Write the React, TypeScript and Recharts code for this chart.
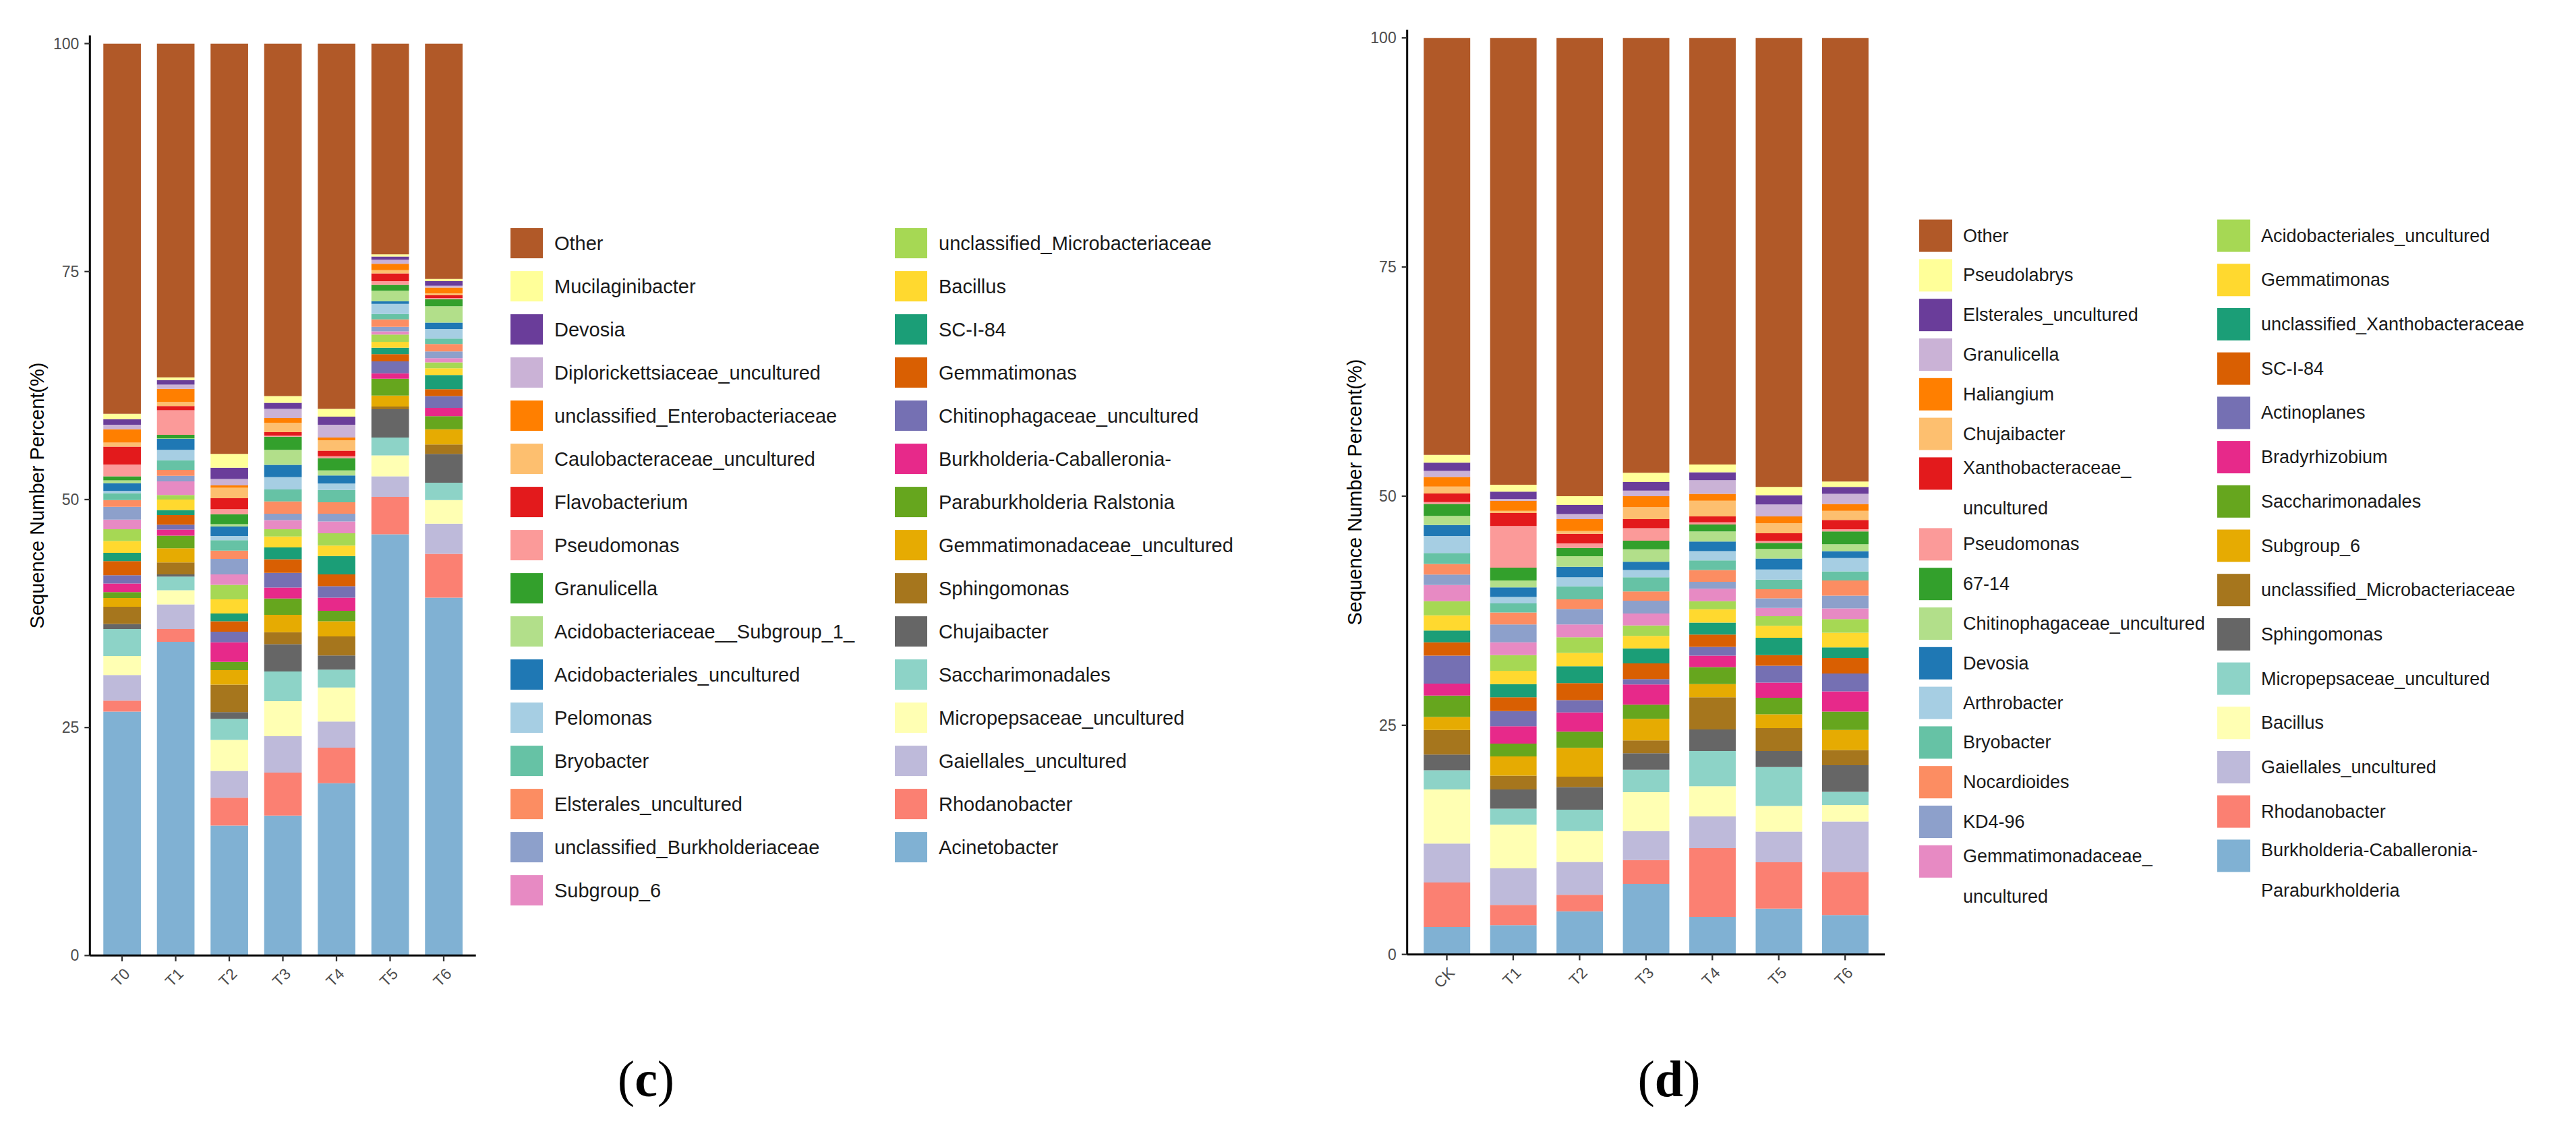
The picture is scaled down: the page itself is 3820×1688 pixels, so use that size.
import React from "react";
import { BarChart, Bar, XAxis, YAxis } from "recharts";

const font = "Liberation Sans, Arial, sans-serif";

// shared colour order (legend order, top of stack first)
const palette = [
  "#B15928", "#FFFF99", "#6A3D9A", "#CAB2D6", "#FF7F00", "#FDBF6F", "#E31A1C", "#FB9A99",
  "#33A02C", "#B2DF8A", "#1F78B4", "#A6CEE3", "#66C2A5", "#FC8D62", "#8DA0CB", "#E78AC3",
  "#A6D854", "#FFD92F", "#1B9E77", "#D95F02", "#7570B3", "#E7298A", "#66A61E", "#E6AB02",
  "#A6761D", "#666666", "#8DD3C7", "#FFFFB3", "#BEBADA", "#FB8072", "#80B1D3",
];

const yTicks = [0, 25, 50, 75, 100];

// ---- panel (c) ----
const leftSamples = ["T0", "T1", "T2", "T3", "T4", "T5", "T6"];
const leftGenera = [
  "Other", "Mucilaginibacter", "Devosia", "Diplorickettsiaceae_uncultured",
  "unclassified_Enterobacteriaceae", "Caulobacteraceae_uncultured", "Flavobacterium",
  "Pseudomonas", "Granulicella", "Acidobacteriaceae__Subgroup_1_", "Acidobacteriales_uncultured",
  "Pelomonas", "Bryobacter", "Elsterales_uncultured", "unclassified_Burkholderiaceae", "Subgroup_6",
  "unclassified_Microbacteriaceae", "Bacillus", "SC-I-84", "Gemmatimonas",
  "Chitinophagaceae_uncultured", "Burkholderia-Caballeronia-", "Paraburkholderia Ralstonia",
  "Gemmatimonadaceae_uncultured", "Sphingomonas", "Chujaibacter", "Saccharimonadales",
  "Micropepsaceae_uncultured", "Gaiellales_uncultured", "Rhodanobacter", "Acinetobacter",
];
const leftT0 = [40.6, 0.6, 0.6, 0.5, 1.45, 0.45, 1.95, 1.3, 0.45, 0.3, 0.85, 0.25, 0.75, 0.75, 1.4, 1.05, 1.3, 1.3, 0.9, 1.55, 0.9, 0.95, 0.65, 0.95, 1.9, 0.55, 2.95, 2.1, 2.8, 1.2, 26.75];
const leftT1 = [36.6, 0.3, 0.5, 0.45, 1.45, 0.45, 0.45, 2.7, 0.4, 0.05, 1.2, 1.15, 1.05, 0.65, 0.6, 1.5, 0.5, 1.15, 0.55, 1.05, 0.55, 0.65, 1.4, 1.55, 1.3, 0.25, 1.5, 1.55, 2.7, 1.4, 34.4];
const leftT2 = [45.0, 1.5, 1.25, 0.7, 0.25, 1.15, 1.2, 0.55, 1.1, 0.25, 1.05, 0.45, 1.15, 0.9, 1.7, 1.15, 1.6, 1.55, 0.85, 1.15, 1.15, 2.15, 0.9, 1.6, 3.0, 0.75, 2.3, 3.4, 2.95, 3.05, 14.25];
const leftT3 = [38.65, 0.75, 0.65, 1.0, 0.55, 1.0, 0.4, 0.1, 1.45, 1.65, 1.35, 1.35, 1.3, 1.35, 0.7, 1.0, 0.8, 1.2, 1.3, 1.5, 1.6, 1.2, 1.8, 1.9, 1.3, 3.0, 3.25, 3.85, 4.0, 4.7, 15.35];
const leftT4 = [40.05, 0.85, 0.9, 1.4, 0.3, 1.15, 0.6, 0.2, 1.35, 0.55, 0.9, 0.7, 1.35, 1.25, 0.85, 1.3, 1.35, 1.15, 2.0, 1.3, 1.25, 1.45, 1.15, 1.65, 2.1, 1.55, 1.95, 3.75, 2.85, 3.9, 18.9];
const leftT5 = [23.1, 0.25, 0.35, 0.45, 0.7, 0.35, 0.85, 0.4, 0.65, 1.15, 0.3, 1.1, 0.6, 0.8, 0.5, 0.35, 0.8, 0.65, 0.7, 0.8, 1.3, 0.6, 1.85, 1.2, 0.3, 3.1, 1.95, 2.3, 2.25, 4.1, 46.2];
const leftT6 = [25.8, 0.25, 0.5, 0.2, 0.65, 0.2, 0.3, 0.15, 0.75, 1.8, 0.7, 1.05, 0.6, 0.8, 0.75, 0.45, 0.65, 0.75, 1.55, 0.75, 1.3, 0.9, 1.45, 1.65, 1.05, 3.15, 1.9, 2.6, 3.3, 4.8, 39.25];
const leftRows = [leftT0, leftT1, leftT2, leftT3, leftT4, leftT5, leftT6];

// ---- panel (d) ----
const rightSamples = ["CK", "T1", "T2", "T3", "T4", "T5", "T6"];
const rightGenera = [
  "Other", "Pseudolabrys", "Elsterales_uncultured", "Granulicella", "Haliangium", "Chujaibacter",
  "Xanthobacteraceae_\nuncultured", "Pseudomonas", "67-14", "Chitinophagaceae_uncultured", "Devosia",
  "Arthrobacter", "Bryobacter", "Nocardioides", "KD4-96", "Gemmatimonadaceae_\nuncultured",
  "Acidobacteriales_uncultured", "Gemmatimonas", "unclassified_Xanthobacteraceae", "SC-I-84",
  "Actinoplanes", "Bradyrhizobium", "Saccharimonadales", "Subgroup_6",
  "unclassified_Microbacteriaceae", "Sphingomonas", "Micropepsaceae_uncultured", "Bacillus",
  "Gaiellales_uncultured", "Rhodanobacter", "Burkholderia-Caballeronia-\nParaburkholderia",
];
const rightCK = [45.5, 0.85, 0.9, 0.65, 1.05, 0.75, 0.95, 0.2, 1.3, 1.0, 1.2, 1.85, 1.2, 1.15, 1.15, 1.75, 1.55, 1.65, 1.3, 1.45, 3.05, 1.3, 2.35, 1.4, 2.7, 1.7, 2.1, 5.9, 4.25, 4.85, 3.0];
const rightT1 = [48.75, 0.75, 0.8, 0.2, 1.1, 0.25, 1.4, 4.55, 1.4, 0.75, 1.05, 0.7, 1.0, 1.3, 1.95, 1.4, 1.7, 1.45, 1.45, 1.5, 1.65, 1.9, 1.4, 2.1, 1.5, 2.1, 1.75, 4.75, 4.0, 2.2, 3.2];
const rightT2 = [50.0, 0.95, 1.0, 0.55, 1.3, 0.3, 1.05, 0.5, 0.9, 1.15, 1.15, 1.0, 1.4, 1.05, 1.7, 1.4, 1.7, 1.45, 1.85, 1.85, 1.35, 2.1, 1.75, 3.15, 1.15, 2.45, 2.35, 3.35, 3.6, 1.8, 4.7];
const rightT3 = [47.45, 1.0, 0.95, 0.6, 1.2, 1.3, 1.0, 1.35, 0.95, 1.35, 0.9, 0.8, 1.55, 1.0, 1.4, 1.3, 1.15, 1.35, 1.65, 1.7, 0.6, 2.2, 1.55, 2.35, 1.4, 1.8, 2.45, 4.25, 3.15, 2.6, 7.7];
const rightT4 = [46.55, 0.85, 0.85, 1.5, 0.75, 1.7, 0.65, 0.25, 0.75, 1.1, 1.05, 1.0, 1.05, 1.3, 0.75, 1.35, 0.9, 1.45, 1.3, 1.35, 0.95, 1.25, 1.85, 1.45, 3.5, 2.35, 3.85, 3.3, 3.45, 7.5, 4.1];
const rightT5 = [49.0, 0.9, 1.0, 1.3, 0.75, 1.1, 0.85, 0.2, 0.65, 1.05, 1.2, 1.1, 1.05, 1.0, 1.05, 0.9, 1.05, 1.3, 1.9, 1.15, 1.85, 1.65, 1.8, 1.5, 2.5, 1.75, 4.25, 2.8, 3.35, 5.05, 5.0];
const rightT6 = [48.4, 0.6, 0.75, 1.1, 0.75, 1.0, 1.0, 0.25, 1.4, 0.75, 0.75, 1.45, 1.0, 1.65, 1.4, 1.15, 1.5, 1.6, 1.15, 1.7, 1.95, 2.2, 2.0, 2.2, 1.65, 2.9, 1.45, 1.8, 5.5, 4.7, 4.3];
const rightRows = [rightCK, rightT1, rightT2, rightT3, rightT4, rightT5, rightT6];

function buildTable(samples: string[], rows: number[][]) {
  return samples.map((s, i) => {
    const row: Record<string, any> = { sample: s };
    rows[i].forEach((v, j) => (row["g" + j] = v));
    return row;
  });
}

const XTick = (props: any) => {
  const { x, y, payload } = props;
  const ax = x + 13;
  const ay = y + 20;
  return (
    <text x={ax} y={ay} transform={`rotate(-45 ${ax} ${ay})`} textAnchor="end"
      fill="#4d4d4d" fontSize={23} fontFamily={font}>
      {payload.value}
    </text>
  );
};

interface PanelProps {
  samples: string[];
  rows: number[][];
  count: number;
  width: number;
  margin: { top: number; right: number; bottom: number; left: number };
  pad: number;
  barSize: number;
}

function StackPanel({ samples, rows, count, width, margin, pad, barSize }: PanelProps) {
  const data = buildTable(samples, rows);
  const order = Array.from({ length: count }, (_, j) => count - 1 - j);
  return (
    <BarChart width={width} height={1540} data={data} margin={margin}>
      <XAxis dataKey="sample" interval={0} padding={{ left: pad, right: pad }} height={100}
        tickSize={8.7} tickMargin={0} tick={<XTick />}
        axisLine={{ stroke: "#000", strokeWidth: 3 }} tickLine={{ stroke: "#333", strokeWidth: 2.3 }} />
      <YAxis type="number" domain={[0, 100.9]} ticks={yTicks} width={80} tickSize={8} tickMargin={8}
        tick={{ fill: "#4d4d4d", fontSize: 23, fontFamily: font }}
        axisLine={{ stroke: "#000", strokeWidth: 3 }} tickLine={{ stroke: "#333", strokeWidth: 2.3 }} />
      {order.map((j) => (
        <Bar key={j} dataKey={"g" + j} stackId="s" fill={palette[j]} barSize={barSize}
          isAnimationActive={false} />
      ))}
    </BarChart>
  );
}

function LegendEntry({ label, color, kx, tx, cy, kw, kh, twoLineShift, size }: any) {
  const lines = label.split("\n");
  return (
    <g>
      <rect x={kx} y={cy - kh / 2} width={kw} height={kh} fill={color} />
      {lines.map((ln: string, k: number) => (
        <text key={k} x={tx} y={lines.length > 1 ? cy - 8 + k * twoLineShift : cy}
          dominantBaseline="central" fontSize={size} fontFamily={font} fill="#1a1a1a">
          {ln}
        </text>
      ))}
    </g>
  );
}

export default function App() {
  return (
    <div style={{ position: "absolute", left: 0, top: 0, width: 3820, height: 1688, background: "#fff" }}>
      <div style={{ position: "absolute", left: 0, top: 0 }}>
        <StackPanel samples={leftSamples} rows={leftRows} count={leftGenera.length} width={740}
          margin={{ top: 52.5, right: 34.3, bottom: 22.7, left: 53.3 }} pad={7.95} barSize={55.7} />
      </div>
      <div style={{ position: "absolute", left: 1960, top: 0 }}>
        <StackPanel samples={rightSamples} rows={rightRows} count={rightGenera.length} width={880}
          margin={{ top: 44, right: 45, bottom: 24.3, left: 46.7 }} pad={9.6} barSize={68.9} />
      </div>
      <svg width={3820} height={1688} style={{ position: "absolute", left: 0, top: 0, pointerEvents: "none" }}>
        <text x={55} y={735} transform="rotate(-90 55 735)" textAnchor="middle" dominantBaseline="central"
          fontSize={29} fontFamily={font} fill="#000">
          Sequence Number Percent(%)
        </text>
        <text x={2009} y={730} transform="rotate(-90 2009 730)" textAnchor="middle" dominantBaseline="central"
          fontSize={29} fontFamily={font} fill="#000">
          Sequence Number Percent(%)
        </text>

        {leftGenera.map((g, i) => {
          const col = i < 16 ? 0 : 1;
          const row = col ? i - 16 : i;
          return (
            <LegendEntry key={g} label={g} color={palette[i]} kx={col ? 1327 : 757} tx={col ? 1392 : 822}
              cy={360.6 + row * 64} kw={48} kh={45} twoLineShift={56} size={29} />
          );
        })}

        {rightGenera.map((g, i) => {
          const col = i < 16 ? 0 : 1;
          let cy: number;
          if (col) cy = 349.6 + (i - 16) * 65.7;
          else cy = i <= 6 ? 349.6 + i * 58.8 : 807.4 + (i - 7) * 58.8;
          return (
            <LegendEntry key={g} label={g} color={palette[i]} kx={col ? 3288 : 2846} tx={col ? 3353 : 2911}
              cy={cy} kw={49} kh={48} twoLineShift={60} size={27} />
          );
        })}

        <text x={958} y={1626} textAnchor="middle" fontSize={76} fontFamily="Liberation Serif, serif" fill="#000">
          (<tspan fontWeight="bold">c</tspan>)
        </text>
        <text x={2475} y={1626} textAnchor="middle" fontSize={76} fontFamily="Liberation Serif, serif" fill="#000">
          (<tspan fontWeight="bold">d</tspan>)
        </text>
      </svg>
    </div>
  );
}
